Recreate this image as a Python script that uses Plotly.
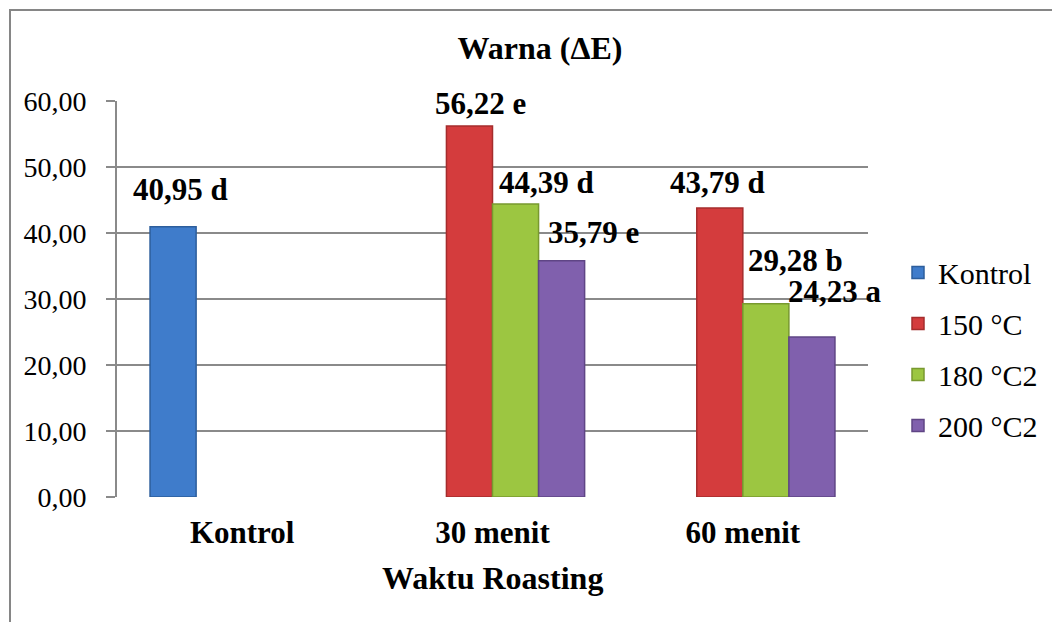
import plotly.graph_objects as go

categories = ["Kontrol", "30 menit", "60 menit"]
series_names = ["Kontrol", "150 °C", "180 °C2", "200 °C2"]
kontrol_vals = [40.95, None, None]
t150_vals = [None, 56.22, 43.79]
t180_vals = [None, 44.39, 29.28]
t200_vals = [None, 35.79, 24.23]
kontrol_notes = ["d", None, None]
t150_notes = [None, "e", "d"]
t180_notes = [None, "d", "b"]
t200_notes = [None, "e", "a"]

series_values = [kontrol_vals, t150_vals, t180_vals, t200_vals]
series_notes = [kontrol_notes, t150_notes, t180_notes, t200_notes]

# styles
fill_colors = ["#3f7ccb", "#d43c3d", "#9cc641", "#8060ad"]
edge_colors = ["#2d5e9c", "#a52c2c", "#78992f", "#5f4585"]
# per-label offsets (px) [series][category]
label_xshift = [[7, 0, 0], [0, 11, -2], [0, 31, 30], [0, 32, 23]]
label_yshift = [[19, 0, 0], [0, 4, 7], [0, 3, 25], [0, 10, 27]]

FONT = "Liberation Serif"
BARGAP = 0.264
W, H = 1052, 614
ML, MT = 109, 93
PW, PH = 751, 396

fig = go.Figure()
for name, vals, fc, ec in zip(series_names, series_values, fill_colors, edge_colors):
    fig.add_trace(go.Bar(
        x=categories, y=vals, name=name, legendgroup=name,
        marker=dict(color=fc, line=dict(color=ec, width=1.5)),
    ))

n = len(series_names)
slot = (1 - BARGAP) / n
annotations = []
for si, (vals, notes) in enumerate(zip(series_values, series_notes)):
    off = -(1 - BARGAP) / 2 + slot * (si + 0.5)
    for ci, (v, note) in enumerate(zip(vals, notes)):
        if v is None:
            continue
        txt = f"{v:.2f}".replace(".", ",") + " " + note
        annotations.append(dict(
            x=ci + off, y=v, xref="x", yref="y", text=f"<b>{txt}</b>",
            showarrow=False, yanchor="bottom", xanchor="center",
            xshift=label_xshift[si][ci], yshift=label_yshift[si][ci],
            borderpad=0,
            font=dict(family=FONT, size=31, color="black"),
        ))

annotations.append(dict(
    x=(484 - ML) / PW, y=-81 / PH, xref="paper", yref="paper", yanchor="middle",
    text="<b>Waktu Roasting</b>", showarrow=False,
    font=dict(family=FONT, size=32, color="black"),
))

fig.update_layout(
    width=W, height=H,
    margin=dict(l=ML, r=W - ML - PW, t=MT, b=H - MT - PH, autoexpand=False),
    paper_bgcolor="white", plot_bgcolor="white",
    barmode="group", bargap=BARGAP, bargroupgap=0,
    separators=",.",
    title=dict(text="<b>Warna (ΔE)</b>", x=532 / W, xref="container", xanchor="center",
               y=1 - 40 / H, yref="container", yanchor="middle",
               font=dict(family=FONT, size=32, color="black")),
    legend=dict(x=(890 - ML) / PW, xanchor="left", y=0.374, yanchor="middle",
                font=dict(family=FONT, size=30, color="black"),
                tracegroupgap=9, bgcolor="rgba(0,0,0,0)"),
    annotations=annotations,
    shapes=[dict(type="rect", xref="paper", yref="paper",
                 x0=(2 - ML) / PW, x1=1.3, y0=-0.5, y1=1 + (MT - 2) / PH,
                 line=dict(color="#868686", width=2), layer="below")],
)
fig.update_xaxes(
    type="category", range=[-0.5, len(categories) - 0.5],
    showgrid=False, showline=False, ticks="",
    tickfont=dict(family=FONT, size=31, color="black"),
    tickprefix="<b>", ticksuffix="</b>", ticklabelstandoff=14,
    zeroline=False,
)
fig.update_yaxes(
    range=[0, 60], dtick=10, tickformat=".2f",
    showgrid=True, gridcolor="#8a8a8a", gridwidth=2,
    showline=True, linecolor="#8a8a8a", linewidth=2,
    ticks="outside", ticklen=9, tickcolor="#8a8a8a", tickwidth=2,
    tickfont=dict(family=FONT, size=28, color="black"),
    ticklabelstandoff=14, zeroline=False,
)
fig.write_html("out.html")
